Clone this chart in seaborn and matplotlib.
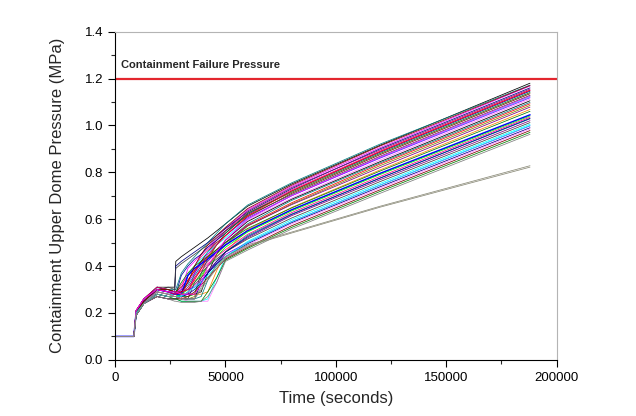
import pandas as pd
import seaborn as sns
import matplotlib.pyplot as plt
from matplotlib.ticker import MultipleLocator, FormatStrFormatter

# time grid shared by all runs (s)
time_s = [0, 8500, 9500, 13000, 19000, 24000, 27000, 27500, 30000, 33000,
          36000, 39000, 42000, 46000, 50000, 60000, 80000, 120000, 188000]

# upper dome pressure per run (MPa)
run01 = [0.1, 0.1, 0.20, 0.25, 0.30, 0.31, 0.31, 0.42, 0.44, 0.46, 0.48, 0.50, 0.52, 0.55, 0.58, 0.655, 0.75, 0.915, 1.18]
run02 = [0.1, 0.1, 0.21, 0.26, 0.31, 0.30, 0.30, 0.30, 0.37, 0.41, 0.44, 0.47, 0.50, 0.54, 0.58, 0.66, 0.755, 0.92, 1.172]
run03 = [0.1, 0.1, 0.20, 0.25, 0.30, 0.30, 0.29, 0.29, 0.30, 0.39, 0.42, 0.45, 0.48, 0.52, 0.56, 0.64, 0.74, 0.905, 1.168]
run04 = [0.1, 0.1, 0.20, 0.25, 0.30, 0.29, 0.29, 0.40, 0.42, 0.44, 0.46, 0.48, 0.50, 0.53, 0.56, 0.63, 0.73, 0.90, 1.16]
run05 = [0.1, 0.1, 0.19, 0.24, 0.29, 0.28, 0.28, 0.28, 0.27, 0.28, 0.37, 0.42, 0.46, 0.51, 0.55, 0.635, 0.735, 0.895, 1.155]
run06 = [0.1, 0.1, 0.21, 0.26, 0.30, 0.30, 0.29, 0.29, 0.32, 0.36, 0.40, 0.44, 0.47, 0.51, 0.55, 0.625, 0.725, 0.89, 1.15]
run07 = [0.1, 0.1, 0.20, 0.25, 0.30, 0.29, 0.28, 0.28, 0.36, 0.40, 0.43, 0.45, 0.48, 0.51, 0.54, 0.62, 0.72, 0.885, 1.146]
run08 = [0.1, 0.1, 0.19, 0.24, 0.28, 0.27, 0.27, 0.27, 0.27, 0.27, 0.28, 0.37, 0.43, 0.49, 0.54, 0.625, 0.715, 0.88, 1.14]
run09 = [0.1, 0.1, 0.20, 0.25, 0.30, 0.30, 0.29, 0.29, 0.31, 0.34, 0.38, 0.42, 0.46, 0.50, 0.53, 0.61, 0.71, 0.875, 1.135]
run10 = [0.1, 0.1, 0.21, 0.26, 0.31, 0.31, 0.30, 0.39, 0.41, 0.43, 0.45, 0.47, 0.49, 0.52, 0.55, 0.615, 0.705, 0.868, 1.128]
run11 = [0.1, 0.1, 0.19, 0.24, 0.29, 0.28, 0.28, 0.28, 0.27, 0.36, 0.40, 0.43, 0.46, 0.49, 0.52, 0.60, 0.70, 0.862, 1.122]
run12 = [0.1, 0.1, 0.20, 0.25, 0.30, 0.29, 0.28, 0.28, 0.30, 0.33, 0.37, 0.41, 0.45, 0.49, 0.53, 0.605, 0.70, 0.86, 1.118]
run13 = [0.1, 0.1, 0.20, 0.25, 0.30, 0.30, 0.29, 0.29, 0.28, 0.28, 0.36, 0.40, 0.43, 0.47, 0.51, 0.595, 0.69, 0.852, 1.112]
run14 = [0.1, 0.1, 0.21, 0.26, 0.31, 0.30, 0.29, 0.29, 0.28, 0.28, 0.28, 0.29, 0.37, 0.45, 0.51, 0.59, 0.685, 0.845, 1.105]
run15 = [0.1, 0.1, 0.19, 0.24, 0.28, 0.27, 0.27, 0.27, 0.29, 0.32, 0.36, 0.40, 0.43, 0.47, 0.50, 0.58, 0.68, 0.84, 1.098]
run16 = [0.1, 0.1, 0.20, 0.24, 0.27, 0.26, 0.26, 0.26, 0.26, 0.34, 0.38, 0.41, 0.44, 0.47, 0.50, 0.575, 0.67, 0.835, 1.092]
run17 = [0.1, 0.1, 0.19, 0.24, 0.29, 0.28, 0.27, 0.27, 0.26, 0.26, 0.27, 0.35, 0.40, 0.45, 0.49, 0.57, 0.665, 0.828, 1.085]
run18 = [0.1, 0.1, 0.20, 0.24, 0.27, 0.26, 0.26, 0.26, 0.28, 0.31, 0.35, 0.39, 0.42, 0.46, 0.50, 0.572, 0.662, 0.82, 1.078]
run19 = [0.1, 0.1, 0.20, 0.25, 0.30, 0.30, 0.29, 0.29, 0.28, 0.28, 0.28, 0.28, 0.29, 0.38, 0.46, 0.555, 0.65, 0.81, 1.068]
run20 = [0.1, 0.1, 0.20, 0.25, 0.30, 0.29, 0.28, 0.28, 0.28, 0.36, 0.39, 0.41, 0.43, 0.46, 0.49, 0.55, 0.64, 0.795, 1.045]
run21 = [0.1, 0.1, 0.19, 0.24, 0.28, 0.27, 0.27, 0.27, 0.28, 0.30, 0.33, 0.36, 0.40, 0.44, 0.48, 0.545, 0.635, 0.79, 1.04]
run22 = [0.1, 0.1, 0.21, 0.26, 0.31, 0.30, 0.29, 0.29, 0.28, 0.28, 0.35, 0.38, 0.41, 0.44, 0.47, 0.535, 0.628, 0.782, 1.035]
run23 = [0.1, 0.1, 0.19, 0.24, 0.28, 0.27, 0.27, 0.27, 0.26, 0.26, 0.26, 0.27, 0.34, 0.41, 0.46, 0.53, 0.622, 0.775, 1.028]
run24 = [0.1, 0.1, 0.20, 0.24, 0.27, 0.26, 0.26, 0.26, 0.27, 0.29, 0.32, 0.35, 0.38, 0.42, 0.46, 0.52, 0.615, 0.768, 1.02]
run25 = [0.1, 0.1, 0.19, 0.24, 0.29, 0.28, 0.27, 0.27, 0.26, 0.26, 0.33, 0.37, 0.40, 0.43, 0.46, 0.515, 0.605, 0.76, 1.012]
run26 = [0.1, 0.1, 0.20, 0.24, 0.27, 0.26, 0.26, 0.26, 0.25, 0.25, 0.25, 0.25, 0.26, 0.35, 0.44, 0.505, 0.598, 0.752, 1.005]
run27 = [0.1, 0.1, 0.20, 0.25, 0.30, 0.29, 0.28, 0.28, 0.29, 0.30, 0.31, 0.34, 0.37, 0.41, 0.45, 0.50, 0.59, 0.745, 0.998]
run28 = [0.1, 0.1, 0.19, 0.24, 0.28, 0.27, 0.27, 0.27, 0.26, 0.26, 0.26, 0.33, 0.37, 0.41, 0.44, 0.495, 0.585, 0.738, 0.99]
run29 = [0.1, 0.1, 0.19, 0.24, 0.29, 0.28, 0.27, 0.27, 0.26, 0.25, 0.25, 0.25, 0.25, 0.33, 0.43, 0.49, 0.58, 0.732, 0.985]
run30 = [0.1, 0.1, 0.20, 0.24, 0.27, 0.26, 0.26, 0.26, 0.26, 0.27, 0.29, 0.32, 0.35, 0.39, 0.43, 0.48, 0.572, 0.725, 0.978]
run31 = [0.1, 0.1, 0.19, 0.24, 0.28, 0.27, 0.26, 0.26, 0.25, 0.25, 0.25, 0.25, 0.29, 0.35, 0.425, 0.475, 0.565, 0.718, 0.97]
run32 = [0.1, 0.1, 0.20, 0.24, 0.27, 0.26, 0.25, 0.25, 0.245, 0.245, 0.245, 0.25, 0.27, 0.33, 0.42, 0.468, 0.558, 0.71, 0.962]
run33 = [0.1, 0.1, 0.20, 0.25, 0.30, 0.29, 0.28, 0.28, 0.29, 0.30, 0.34, 0.39, 0.44, 0.49, 0.53, 0.615, 0.72, 0.888, 1.15]
run34 = [0.1, 0.1, 0.20, 0.25, 0.30, 0.30, 0.29, 0.29, 0.33, 0.37, 0.40, 0.42, 0.44, 0.47, 0.50, 0.56, 0.648, 0.805, 1.06]
run35 = [0.1, 0.1, 0.19, 0.24, 0.28, 0.27, 0.27, 0.27, 0.27, 0.28, 0.30, 0.33, 0.37, 0.42, 0.46, 0.525, 0.62, 0.775, 1.03]
run36 = [0.1, 0.1, 0.20, 0.25, 0.30, 0.30, 0.29, 0.29, 0.29, 0.33, 0.40, 0.45, 0.49, 0.53, 0.565, 0.645, 0.745, 0.912, 1.17]
run37 = [0.1, 0.1, 0.20, 0.24, 0.28, 0.27, 0.27, 0.27, 0.27, 0.29, 0.31, 0.33, 0.36, 0.40, 0.44, 0.50, 0.59, 0.745, 1.00]
run38 = [0.1, 0.1, 0.21, 0.26, 0.30, 0.29, 0.29, 0.29, 0.28, 0.28, 0.28, 0.32, 0.40, 0.46, 0.51, 0.60, 0.70, 0.865, 1.125]
# the two low runs that end near 0.82 MPa
run39 = [0.1, 0.1, 0.19, 0.24, 0.29, 0.28, 0.27, 0.27, 0.26, 0.26, 0.26, 0.31, 0.35, 0.40, 0.44, 0.49, 0.545, 0.655, 0.828]
run40 = [0.1, 0.1, 0.19, 0.24, 0.28, 0.27, 0.27, 0.27, 0.26, 0.26, 0.26, 0.30, 0.34, 0.39, 0.435, 0.485, 0.541, 0.651, 0.822]

runs = [run01, run02, run03, run04, run05, run06, run07, run08, run09, run10,
        run11, run12, run13, run14, run15, run16, run17, run18, run19, run20,
        run21, run22, run23, run24, run25, run26, run27, run28, run29, run30,
        run31, run32, run33, run34, run35, run36, run37, run38, run39, run40]

run_colors = ["#000000", "#008080", "#FF00FF", "#000080", "#800080", "#FF0080", "#0000A0",
              "#008000", "#800000", "#404040", "#00FFFF", "#8000FF", "#FF80FF", "#000000",
              "#008080", "#FF0000", "#808000", "#800080", "#FF8000", "#0000FF", "#00FF00",
              "#FF0080", "#008080", "#800080", "#404040", "#00FFFF", "#8000FF", "#000080",
              "#FF80FF", "#800000", "#008000", "#808080", "#FF0000", "#008000", "#0000A0",
              "#800000", "#00FFFF", "#FF00FF", "#8a8a78", "#8a8a78"]

failure_pressure = 1.2

frames = []
for i, vals in enumerate(runs):
    frames.append(pd.DataFrame({"time_s": time_s, "pressure": vals, "run": f"run{i + 1:02d}"}))
df = pd.concat(frames, ignore_index=True)

sns.set_style("ticks")
plt.rcParams['font.family'] = ['Liberation Sans', 'DejaVu Sans']

fig, ax = plt.subplots(figsize=(6.36, 4.16), dpi=100)
fig.subplots_adjust(left=0.181, right=0.875, bottom=0.135, top=0.924)

sns.lineplot(data=df, x="time_s", y="pressure", hue="run", palette=run_colors,
             estimator=None, sort=False, legend=False, linewidth=0.55, ax=ax)
# the blue run stands out a bit more
ax.lines[19].set_linewidth(1.1)

ax.axhline(failure_pressure, color="#e3262e", lw=1.6)
ax.text(2500, 1.245, "Containment Failure Pressure", fontsize=8, fontweight="bold",
        va="baseline", ha="left")

ax.set_xlim(0, 200000)
ax.set_ylim(0, 1.4)
ax.xaxis.set_major_locator(MultipleLocator(50000))
ax.xaxis.set_minor_locator(MultipleLocator(25000))
ax.yaxis.set_major_locator(MultipleLocator(0.2))
ax.yaxis.set_minor_locator(MultipleLocator(0.1))
ax.yaxis.set_major_formatter(FormatStrFormatter("%.1f"))
ax.tick_params(which="major", direction="out", length=5, width=0.8, labelsize=9.5, colors="black")
ax.tick_params(which="minor", direction="out", length=3, width=0.8)

for side in ["top", "right"]:
    ax.spines[side].set_color("#b4b4b4")
    ax.spines[side].set_linewidth(0.8)
for side in ["left", "bottom"]:
    ax.spines[side].set_color("black")
    ax.spines[side].set_linewidth(0.8)

ax.set_xlabel("Time (seconds)", fontsize=12, labelpad=5)
ax.set_ylabel("Containment Upper Dome Pressure (MPa)", fontsize=12, labelpad=14)

fig.savefig("out.png", dpi=100)
